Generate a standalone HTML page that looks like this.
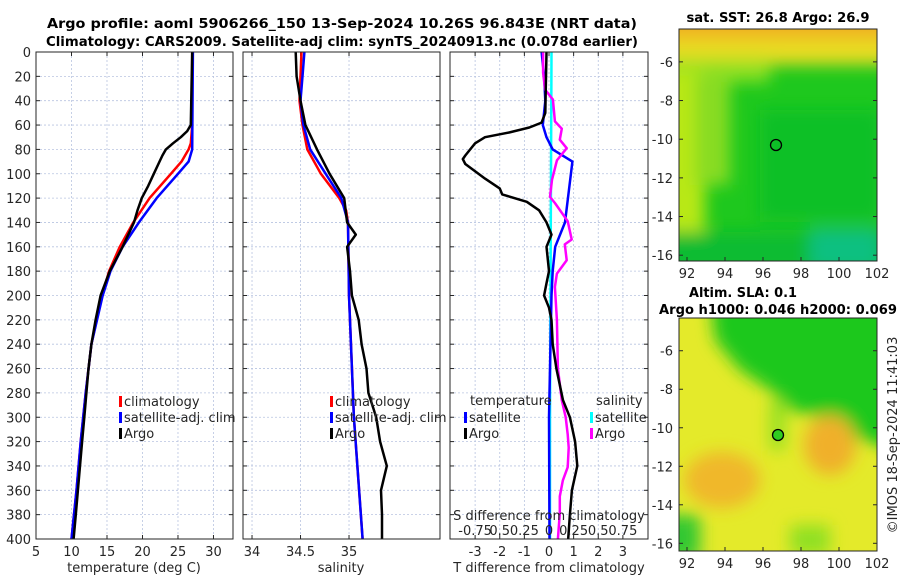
<!DOCTYPE html>
<html><head><meta charset="utf-8">
<style>
body{margin:0;background:#fff;}
svg{display:block;font-family:"DejaVu Sans","Liberation Sans",sans-serif;}
.tk{font-size:13px;fill:#262626;}
.tt{font-size:13.6px;font-weight:bold;fill:#000;}
.lg{font-size:13px;fill:#262626;}
</style></head>
<body>
<svg id="fig" width="900" height="580" viewBox="0 0 900 580">
<defs>
<filter id="blur6"><feGaussianBlur stdDeviation="8"/></filter>
<clipPath id="clipMap1"><rect x="679" y="29" width="198" height="232"/></clipPath>
<clipPath id="clipMap2"><rect x="679" y="318" width="198" height="233"/></clipPath>
</defs>
<text class="tt" x="342" y="28" text-anchor="middle" textLength="590" lengthAdjust="spacingAndGlyphs">Argo profile: aoml 5906266_150 13-Sep-2024 10.26S 96.843E (NRT data)</text>
<text class="tt" x="342" y="46" text-anchor="middle" textLength="592" lengthAdjust="spacingAndGlyphs">Climatology: CARS2009. Satellite-adj clim: synTS_20240913.nc (0.078d earlier)</text>

<!-- SST map -->
<g clip-path="url(#clipMap1)">
<rect x="679" y="29" width="198" height="232" fill="#1ec81e"/>
<g filter="url(#blur6)">
<rect x="660" y="10" width="240" height="55" fill="#e8dc20"/>
<rect x="660" y="10" width="240" height="28" fill="#f0b020"/>
<rect x="660" y="60" width="110" height="22" fill="#8ee020"/>
<rect x="660" y="70" width="45" height="180" fill="#b8e818"/>
<rect x="695" y="75" width="35" height="110" fill="#88dc20"/>
<rect x="660" y="232" width="240" height="40" fill="#10bc30"/>
<rect x="810" y="228" width="70" height="45" fill="#10c080"/>
<rect x="760" y="110" width="120" height="110" fill="#10c028"/>
</g>
<circle cx="776" cy="145" r="5.5" fill="none" stroke="#000" stroke-width="1.3"/>
</g>
<rect x="679" y="29" width="198" height="232" fill="none" stroke="#262626" stroke-width="1"/>
<text class="tt" x="778" y="22" text-anchor="middle" textLength="183" lengthAdjust="spacingAndGlyphs">sat. SST: 26.8 Argo: 26.9</text>

<!-- SLA map -->
<g clip-path="url(#clipMap2)">
<rect x="679" y="318" width="198" height="233" fill="#e4ea2a"/>
<g filter="url(#blur6)">
<path d="M710 300 L900 300 L900 450 L860 440 L830 420 L790 410 L770 390 L740 370 L715 340 Z" fill="#1ec81e"/>
<rect x="770" y="400" width="15" height="50" fill="#90e020"/>
<ellipse cx="722" cy="480" rx="38" ry="28" fill="#f0b82a"/>
<ellipse cx="830" cy="445" rx="26" ry="30" fill="#f0b02a"/>
<rect x="655" y="515" width="45" height="45" fill="#30c830"/>
<rect x="790" y="525" width="40" height="30" fill="#90e020"/>
</g>
<circle cx="778" cy="435" r="5.5" fill="#30cc20" stroke="#000" stroke-width="1.3"/>
</g>
<rect x="679" y="318" width="198" height="233" fill="none" stroke="#262626" stroke-width="1"/>
<text class="tt" x="743" y="297" text-anchor="middle" textLength="108" lengthAdjust="spacingAndGlyphs">Altim. SLA: 0.1</text>
<text class="tt" x="778" y="314" text-anchor="middle" textLength="238" lengthAdjust="spacingAndGlyphs">Argo h1000: 0.046 h2000: 0.069</text>
<text class="tk" x="0" y="0" text-anchor="middle" transform="translate(897,435) rotate(-90)">©IMOS 18-Sep-2024 11:41:03</text>

<g id="panels"></g>
</svg>
<script>
// ---- data ----
const depthTicks = [0,20,40,60,80,100,120,140,160,180,200,220,240,260,280,300,320,340,360,380,400];
const tempTicks = [5,10,15,20,25,30];
const salTicks = [34,34.5,35];
const tdiffTicks = [-3,-2,-1,0,1,2,3];
const sdiffTicks = [-0.75,-0.5,-0.25,0,0.25,0.5,0.75];
const sdiffLabels = ["-0.75","0.5","0.25","0","0.25","0.5","0.75"];
const lats = [-6,-8,-10,-12,-14,-16];
const lons = [92,94,96,98,100,102];

const tClimDepth = [0,60,75,80,90,100,120,140,160,180,200,240,280,320,360,400];
const tClimVal   = [27.0,27.0,26.8,26.5,25.5,24.0,21.0,18.7,16.8,15.3,14.3,12.8,12.0,11.3,10.7,10.0];
const tSatDepth  = [0,80,90,100,120,140,160,180,200,240,280,320,360,400];
const tSatVal    = [27.1,27.0,26.5,25.0,22.0,19.5,17.2,15.5,14.4,12.8,12.0,11.3,10.7,10.0];
const tArgoDepth = [0,60,65,70,75,80,85,90,100,110,120,130,140,160,180,200,220,240,260,280,300,320,340,360,380,400];
const tArgoVal   = [27.0,26.8,26.3,25.4,24.3,23.3,22.8,22.4,21.6,20.8,19.9,19.3,18.8,17.2,15.4,14.1,13.4,12.8,12.4,12.1,11.8,11.5,11.2,10.9,10.6,10.3];

const sClimDepth = [0,40,60,80,100,120,130,140,200,220,300,400];
const sClimVal   = [34.51,34.49,34.52,34.57,34.71,34.90,34.97,34.99,35.00,35.01,35.05,35.14];
const sSatDepth  = [0,20,40,60,80,100,120,140,200,300,400];
const sSatVal    = [34.54,34.52,34.50,34.53,34.60,34.76,34.92,34.99,35.00,35.05,35.14];
const sArgoDepth = [0,20,40,60,80,100,120,140,150,160,180,200,220,240,260,280,300,320,340,360,380,400];
const sArgoVal   = [34.45,34.46,34.50,34.55,34.67,34.80,34.95,34.98,35.07,34.98,35.01,35.03,35.10,35.13,35.18,35.20,35.28,35.32,35.39,35.33,35.34,35.34];

const dtArgoDepth = [0,50,58,62,66,70,75,80,85,88,92,98,104,112,117,123,130,140,150,160,180,190,200,210,220,240,260,286,300,320,340,360,380,400];
const dtArgoVal   = [-0.1,-0.15,-0.3,-0.8,-1.6,-2.6,-3.0,-3.2,-3.4,-3.5,-3.4,-3.0,-2.6,-2.0,-1.9,-0.9,-0.4,-0.1,0.1,-0.1,0.0,-0.1,-0.2,0.0,0.1,0.15,0.3,0.57,0.85,1.06,1.15,0.93,0.85,0.78];
const dtSatDepth  = [0,20,40,60,70,80,90,140,160,180,200,300,400];
const dtSatVal    = [-0.3,-0.2,-0.15,-0.25,-0.1,0.15,0.95,0.65,0.25,0.15,0.1,0.0,0.02];
const dsSatDepth  = [0,100,200,300,400];
const dsSatVal    = [0.025,0.02,0.015,0.01,0.01];
const dsArgoDepth = [0,17,31,39,57,63,72,79,89,105,119,124,139,154,158,171,182,193,220,260,286,300,314,325,341,352,365,379,400];
const dsArgoVal   = [-0.06,-0.06,-0.04,0.04,0.06,0.13,0.11,0.18,0.08,0.03,0.01,0.06,0.19,0.23,0.16,0.18,0.08,0.06,0.08,0.09,0.13,0.17,0.19,0.2,0.19,0.14,0.11,0.11,0.09];

// ---- drawing ----
const NS = 'http://www.w3.org/2000/svg';
const root = document.getElementById('panels');
const Y0 = 52, Y1 = 539;
function yD(d){ return Y0 + (d/400)*(Y1-Y0); }
function mk(tag, attrs, parent){
  const e = document.createElementNS(NS, tag);
  for (const k in attrs) e.setAttribute(k, attrs[k]);
  (parent||root).appendChild(e);
  return e;
}
function panel(name, x0, x1, vmin, vmax){
  const g = mk('g', {});
  
  
  return {g, x0, x1, xs: v => x0 + (v - vmin)/(vmax - vmin)*(x1 - x0)};
}
function frame(p, xt, xl, showYLabels){
  depthTicks.forEach(d => {
    const l = mk('line', {x1:p.x0, x2:p.x1, y1:yD(d), y2:yD(d), stroke:'#b8c4e0', 'stroke-width':0.8, 'stroke-dasharray':'2,2'}, p.g);
    
    
    mk('line', {x1:p.x0, x2:p.x0+4, y1:yD(d), y2:yD(d), stroke:'#262626'}, p.g);
    mk('line', {x1:p.x1, x2:p.x1-4, y1:yD(d), y2:yD(d), stroke:'#262626'}, p.g);
    if (showYLabels){
      const t = mk('text', {x:p.x0-5, y:yD(d)+5, 'text-anchor':'end', class:'tk'}, p.g);
      t.textContent = d;
      
      
    }
  });
  xt.forEach((v,i) => {
    const x = p.xs(v);
    const l = mk('line', {x1:x, x2:x, y1:Y0, y2:Y1, stroke:'#b8c4e0', 'stroke-width':0.8, 'stroke-dasharray':'2,2'}, p.g);
    
    
    mk('line', {x1:x, x2:x, y1:Y1, y2:Y1-4, stroke:'#262626'}, p.g);
    mk('line', {x1:x, x2:x, y1:Y0, y2:Y0+4, stroke:'#262626'}, p.g);
    const t = mk('text', {x:x, y:Y1+17, 'text-anchor':'middle', class:'tk'}, p.g);
    t.textContent = xl[i];
    
    
  });
}
function border(p){
  mk('rect', {x:p.x0, y:Y0, width:p.x1-p.x0, height:Y1-Y0, fill:'none', stroke:'#262626', 'stroke-width':1}, p.g);
}
function line(p, ds, vs, color, w, name){
  const pts = ds.map((d,i) => p.xs(vs[i]).toFixed(1)+','+yD(d).toFixed(1)).join(' ');
  const l = mk('polyline', {points:pts, fill:'none', stroke:color, 'stroke-width':w, 'stroke-linejoin':'round'}, p.g);
  
  
}
function label(p, x, y, txt, name, anchor){
  const t = mk('text', {x:x, y:y, 'text-anchor':anchor||'middle', class:'tk'}, p.g);
  t.textContent = txt;
  
  
}
function legend(p, x, y, color, txt, name){
  mk('rect', {x:x, y:y-10, width:3, height:11, fill:color}, p.g);
  const t = mk('text', {x:x+5, y:y, class:'lg'}, p.g);
  t.textContent = txt;
  
  
}

// Panel 1: temperature
const p1 = panel('temperature-panel', 36, 233, 5, 32.75);
frame(p1, tempTicks, tempTicks.map(String), true);
line(p1, tClimDepth, tClimVal, '#ff0000', 2.5, 'temp-climatology-line');
line(p1, tSatDepth, tSatVal, '#0000ff', 2.5, 'temp-satellite-line');
line(p1, tArgoDepth, tArgoVal, '#000000', 2.5, 'temp-argo-line');
border(p1);
label(p1, 134, 572, 'temperature (deg C)', 'temperature-axis-title');
legend(p1, 119, 406, '#ff0000', 'climatology', 'legend-climatology');
legend(p1, 119, 422, '#0000ff', 'satellite-adj. clim', 'legend-satellite-adj');
legend(p1, 119, 438, '#000000', 'Argo', 'legend-argo');

// Panel 2: salinity
const p2 = panel('salinity-panel', 243, 440, 33.907, 35.938);
frame(p2, salTicks, ['34','34.5','35'], false);
line(p2, sClimDepth, sClimVal, '#ff0000', 2.5, 'sal-climatology-line');
line(p2, sSatDepth, sSatVal, '#0000ff', 2.5, 'sal-satellite-line');
line(p2, sArgoDepth, sArgoVal, '#000000', 2.5, 'sal-argo-line');
border(p2);
label(p2, 341, 572, 'salinity', 'salinity-axis-title');
legend(p2, 330, 406, '#ff0000', 'climatology', 'legend2-climatology');
legend(p2, 330, 422, '#0000ff', 'satellite-adj. clim', 'legend2-satellite-adj');
legend(p2, 330, 438, '#000000', 'Argo', 'legend2-argo');

// Panel 3: differences
const p3 = panel('difference-panel', 450, 648, -4.02, 4.02);
const sx = s => p3.xs(s*4);
frame(p3, tdiffTicks, tdiffTicks.map(String), false);
line(p3, dsSatDepth, dsSatVal.map(v=>v*4), '#00ffff', 2.5, 'sal-diff-satellite-line');
line(p3, dtSatDepth, dtSatVal, '#0000ff', 2.5, 'temp-diff-satellite-line');
line(p3, dsArgoDepth, dsArgoVal.map(v=>v*4), '#ff00ff', 2.5, 'sal-diff-argo-line');
line(p3, dtArgoDepth, dtArgoVal, '#000000', 2.5, 'temp-diff-argo-line');
border(p3);
label(p3, 549, 572, 'T difference from climatology', 'tdiff-axis-title');
label(p3, 549, 520, 'S difference from climatology', 'sdiff-axis-title');
sdiffTicks.forEach((v,i) => label(p3, sx(v), 535, sdiffLabels[i], 'sdiff-tick-label'));
label(p3, 470, 405, 'temperature', 'legend3-temperature-heading', 'start');
label(p3, 596, 405, 'salinity', 'legend3-salinity-heading', 'start');
legend(p3, 464, 422, '#0000ff', 'satellite', 'legend3-temp-satellite');
legend(p3, 464, 438, '#000000', 'Argo', 'legend3-temp-argo');
legend(p3, 590, 422, '#00ffff', 'satellite', 'legend3-sal-satellite');
legend(p3, 590, 438, '#ff00ff', 'Argo', 'legend3-sal-argo');

// Map axes
const svg = document.getElementById('fig');
function mapAxes(top, bottom, latTop, latBot, name){
  const g = mk('g', {}, svg);
  
  
  const ly = lat => top + (latTop - lat)/(latTop - latBot)*(bottom - top);
  const lx = lon => 687 + (lon - 92)*19;
  lats.forEach(la => {
    mk('line', {x1:679, x2:683, y1:ly(la), y2:ly(la), stroke:'#262626'}, g);
    mk('line', {x1:877, x2:873, y1:ly(la), y2:ly(la), stroke:'#262626'}, g);
    const t = mk('text', {x:673, y:ly(la)+5, 'text-anchor':'end', class:'tk'}, g);
    t.textContent = la;
    
    
  });
  lons.forEach(lo => {
    mk('line', {x1:lx(lo), x2:lx(lo), y1:bottom, y2:bottom-4, stroke:'#262626'}, g);
    const t = mk('text', {x:lx(lo), y:bottom+17, 'text-anchor':'middle', class:'tk'}, g);
    t.textContent = lo;
    
    
  });
}
mapAxes(29, 261, -4.3, -16.3, 'sst-map-axes');
mapAxes(318, 551, -4.3, -16.4, 'sla-map-axes');
</script>
</body></html>
